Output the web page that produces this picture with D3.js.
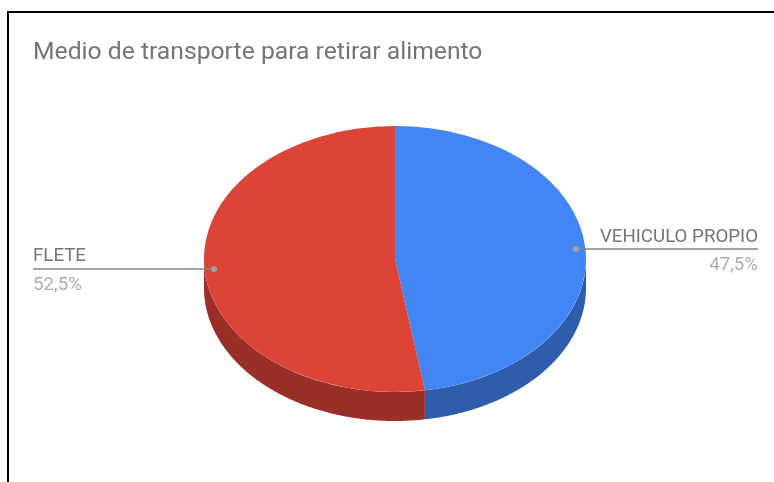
<!DOCTYPE html>
<html>
<head>
<meta charset="utf-8">
<script src="https://cdn.jsdelivr.net/npm/d3@7"></script>
<style>
  html, body { margin: 0; padding: 0; background: #fff; }
  svg { display: block; font-family: Roboto, sans-serif; }
  text { filter: blur(0.4px); }
</style>
</head>
<body>
<svg id="chart" width="774" height="482"></svg>
<script>
// values
var categories = ["VEHICULO PROPIO", "FLETE"];
var values = [47.5, 52.5];
var percentLabels = ["47,5%", "52,5%"];
var sliceColors = ["#4285f4", "#db4437"];
var sideColors = ["#2e5dab", "#992f26"];
var chartTitle = "Medio de transporte para retirar alimento";

var svg = d3.select("svg#chart");

// frame
svg.append("path")
    .attr("d", "M8,482V12H774")
    .attr("fill", "none")
    .attr("stroke", "#000")
    .attr("stroke-width", 2);

svg.append("text")
    .attr("x", 33)
    .attr("y", 59)
    .attr("fill", "#757575")
    .attr("font-size", 24.7)
    .text(chartTitle);

var cx = 395, cy = 259, rx = 191, ry = 133, depth = 29;

var slices = d3.pie().sort(null)(values);

var ex = function (a) { return cx + rx * Math.sin(a); };
var ey = function (a) { return cy - ry * Math.cos(a); };

// side wall, only the part of each slice on the front half of the ellipse
var wall = d3.area()
    .x(function (a) { return ex(a); })
    .y0(function (a) { return ey(a); })
    .y1(function (a) { return ey(a) + depth; });

slices.forEach(function (s, i) {
    var from = Math.max(s.startAngle, Math.PI / 2),
        to = Math.min(s.endAngle, Math.PI * 1.5);
    if (to <= from) return;
    svg.append("path")
        .attr("d", wall(d3.range(from, to, 0.01).concat([to])))
        .attr("fill", sideColors[i]);
});

// top face: a circle arc squashed to the ellipse
var face = svg.append("g")
    .attr("transform", "translate(" + cx + "," + cy + ") scale(1," + (ry / rx) + ")");
var arc = d3.arc().innerRadius(0).outerRadius(rx);
face.selectAll("path")
    .data(slices)
    .enter().append("path")
    .attr("d", arc)
    .attr("fill", function (d, i) { return sliceColors[i]; });

// labels with leader lines
var labelX = { left: 33, right: 758 };
slices.forEach(function (s, i) {
    var mid = (s.startAngle + s.endAngle) / 2,
        px = cx + 0.95 * rx * Math.sin(mid),
        py = cy - 0.95 * ry * Math.cos(mid),
        isRight = Math.sin(mid) > 0,
        endX = isRight ? labelX.right : labelX.left,
        anchor = isRight ? "end" : "start";

    svg.append("line")
        .attr("x1", px).attr("y1", py)
        .attr("x2", endX).attr("y2", py)
        .attr("stroke", "#858585")
        .attr("stroke-width", 1.5);
    svg.append("circle")
        .attr("cx", px).attr("cy", py).attr("r", 3)
        .attr("fill", "#a0a0a0");
    svg.append("text")
        .attr("x", endX).attr("y", py - 7.5)
        .attr("text-anchor", anchor)
        .attr("fill", "#757575")
        .attr("font-size", 18.7)
        .text(categories[i]);
    svg.append("text")
        .attr("x", endX).attr("y", py + 21)
        .attr("text-anchor", anchor)
        .attr("fill", "#aeaeae")
        .attr("font-size", 18.7)
        .text(percentLabels[i]);
});
</script>
</body>
</html>
